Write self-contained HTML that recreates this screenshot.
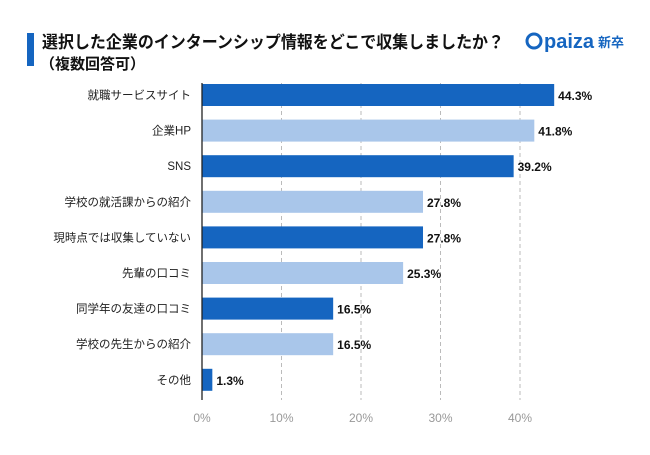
<!DOCTYPE html>
<html><head><meta charset="utf-8"><style>
body{margin:0;background:#fff;width:650px;height:450px;overflow:hidden;font-family:"Liberation Sans","Noto Sans CJK JP",sans-serif}
</style></head><body>
<svg width="650" height="450">
<rect x="27" y="33" width="7" height="33" fill="#1565c0"/>
<text x="42" y="48" font-size="17" font-weight="bold" fill="#111" textLength="462" lengthAdjust="spacingAndGlyphs">選択した企業のインターンシップ情報をどこで収集しましたか？</text>
<text x="40" y="69" font-size="15" font-weight="bold" fill="#111">（複数回答可）</text>
<g>
<circle cx="534" cy="41" r="7" fill="none" stroke="#1565c0" stroke-width="3"/>
<text x="544" y="48" font-size="20" font-weight="bold" fill="#1565c0">paiza</text>
<text x="598" y="47" font-size="13" font-weight="bold" fill="#1565c0">新卒</text>
</g>
<g id="grid"></g><g id="bars"></g>
<line x1="202" y1="83" x2="202" y2="400" stroke="#222" stroke-width="1.3"/>
</svg>
<script>
const categories=["就職サービスサイト","企業HP","SNS","学校の就活課からの紹介","現時点では収集していない","先輩の口コミ","同学年の友達の口コミ","学校の先生からの紹介","その他"];
const values=[44.3,41.8,39.2,27.8,27.8,25.3,16.5,16.5,1.3];
const ticks=[0,10,20,30,40];
const dark=[true,false,true,false,true,false,true,false,true];
const NS="http://www.w3.org/2000/svg";
const x0=202,sc=7.95,y0=95,step=35.6,bh=22;
const xs=v=>x0+v*sc, ys=i=>y0+i*step;
const g=document.getElementById('grid'),b=document.getElementById('bars');
function mk(tag,at,p){const e=document.createElementNS(NS,tag);for(const k in at)e.setAttribute(k,at[k]);p.appendChild(e);return e;}
ticks.forEach(t=>{
 if(t>0){const l=mk('line',{x1:xs(t),x2:xs(t),y1:83,y2:400,stroke:'#bbb','stroke-dasharray':'4,3'},g);
 
 }
 const tx=mk('text',{x:xs(t),y:422,'text-anchor':'middle','font-size':12,fill:'#999'},g);tx.textContent=t+'%';
 
 
});
categories.forEach((c,i)=>{
 const y=ys(i);
 const lb=mk('text',{x:191,y:y+4,'text-anchor':'end','font-size':11.5,fill:'#222'},b);lb.textContent=c;
 
 
 const r=mk('rect',{x:x0,y:y-bh/2,width:values[i]*sc,height:bh,fill:dark[i]?'#1565c0':'#a9c6ea'},b);
 
 
 const v=mk('text',{x:xs(values[i])+4,y:y+5,'font-size':12,'font-weight':'bold',fill:'#111'},b);v.textContent=values[i].toFixed(1)+'%';
 
 
});
</script>
</body></html>
